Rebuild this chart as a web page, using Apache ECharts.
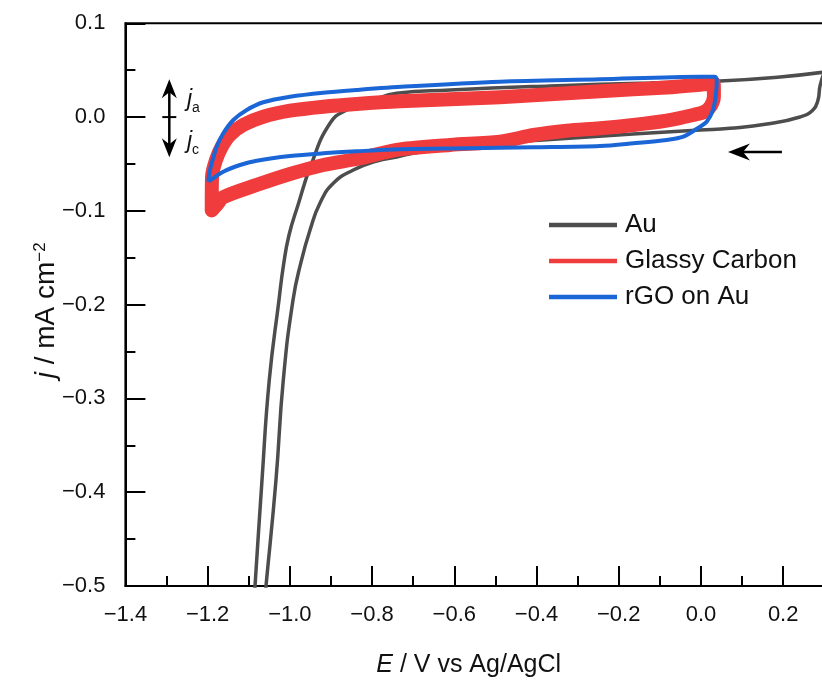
<!DOCTYPE html>
<html><head><meta charset="utf-8">
<script src="https://cdn.jsdelivr.net/npm/echarts@6/dist/echarts.min.js"></script>
<style>html,body{margin:0;padding:0;background:#fff}#c{width:822px;height:683px}</style>
</head><body><div id="c"></div>
<script>
// ---- data (E / V vs Ag/AgCl, j / mA cm^-2) ----
const seriesNames = ['Au', 'Glassy Carbon', 'rGO on Au'];

const auLoop = [
  [0.300,0.048],[0.2896,0.0332],[0.2847,0.0182],[0.2725,0.0076],[0.2409,0.0001],[0.1606,-0.0074],
  [0.0706,-0.0119],[-0.0022,-0.0138],[-0.1653,-0.018],[-0.3842,-0.0244],[-0.5374,-0.0287],
  [-0.6834,-0.0372],[-0.74,-0.0425],[-0.7887,-0.0468],[-0.8456,-0.0564],[-0.8943,-0.0706],
  [-0.9266,-0.0916],[-0.9509,-0.1204],[-0.973,-0.155],[-0.9923,-0.195],[-1.0159,-0.2803],[-1.0337,-0.3869],
  [-1.058,-0.5],[-1.0702,-0.557],
  [-1.0933,-0.557],[-1.0847,-0.5],[-1.0677,-0.3869],[-1.05,-0.2803],[-1.0264,-0.195],
  [-1.0154,-0.1577],[-1.002,-0.1257],[-0.9801,-0.0937],[-0.9485,-0.0511],[-0.9023,-0.0066],[-0.8617,0.0076],
  [-0.797,0.0182],[-0.74,0.0254],[-0.61,0.0289],[-0.3671,0.0332],[-0.1239,0.0364],
  [0.0464,0.0385],[0.1923,0.0428],[0.300,0.048]
];

const glassyCarbonLoop = [
  [-1.19,-0.0995],[-1.1893,-0.0635],[-1.1796,-0.0457],[-1.1657,-0.0316],[-1.1458,-0.0191],
  [-1.1132,-0.0084],[-1.0646,0.0004],[-0.9996,0.0068],[-0.9186,0.0111],[-0.8374,0.014],
  [-0.732,0.0168],[-0.4888,0.0211],[-0.2455,0.0276],[-0.0833,0.0316],[-0.0022,0.0345],
  [0.031,0.036],[0.0315,0.022],[0.024,0.012],[0.010,0.006],[-0.0186,0.0022],[-0.0833,-0.0038],
  [-0.1645,-0.0084],[-0.2455,-0.0119],[-0.3265,-0.0145],[-0.4078,-0.0191],[-0.4888,-0.0262],
  [-0.6104,-0.0297],[-0.732,-0.0345],[-0.8374,-0.0447],[-0.9186,-0.0511],[-0.9996,-0.0607],
  [-1.0806,-0.0724],[-1.1619,-0.0855],[-1.1779,-0.0937],[-1.19,-0.0995]
];

const rgoLoop = [
  [-1.1983,-0.0689],[-1.1959,-0.0599],[-1.1901,-0.0493],[-1.1779,-0.0316],[-1.1619,-0.0173],
  [-1.1375,-0.0031],[-1.1049,0.0076],[-1.0646,0.0158],[-0.9996,0.0217],[-0.9186,0.026],
  [-0.8374,0.0289],[-0.72,0.0325],[-0.4888,0.0377],[-0.2455,0.0403],[-0.0022,0.0431],
  [0.034,0.0431],[0.0384,0.0396],[0.0367,0.0254],[0.0294,0.0076],[0.0140,-0.0049],
  [-0.0022,-0.0102],[-0.0429,-0.0209],[-0.0833,-0.0244],[-0.1645,-0.0279],[-0.2455,-0.0308],
  [-0.4085,-0.0322],[-0.5698,-0.0333],[-0.732,-0.0343],[-0.8374,-0.0365],[-0.9186,-0.0386],
  [-0.9996,-0.0415],[-1.0806,-0.0465],[-1.1212,-0.0511],[-1.1619,-0.0582],[-1.1983,-0.0689]
];

// axis ranges / ticks
const xRange = [-1.4, 0.4], xStep = 0.2;
const yRange = [-0.5, 0.1], yStep = 0.1;

// annotation anchors (data units)
const scanArrow = {tip:[0.0658,-0.0372], tail:[0.1969,-0.0372]};
const jArrow = {x:-1.2932, top:0.0403, bottom:-0.0429, mid:0.0};
const jaLabelAt = [-1.2502, 0.0182];
const jcLabelAt = [-1.2502, -0.0265];
const xTitleCenterE = -0.565;
const yTitleCenterJ = -0.206;

// ---- chart ----
const FONT = "'Liberation Sans', Arial, Helvetica, sans-serif";
const fmt1 = v => { const r = Math.round(v*10)/10; return (r < 0 ? '\u2212' : '') + Math.abs(r).toFixed(1); };
const chart = echarts.init(document.getElementById('c'), null, {renderer:'canvas', width:822, height:683});
const axisCommon = {
  type:'value',
  axisLine:{show:true, onZero:false, lineStyle:{color:'#000', width:2}},
  axisTick:{show:true, inside:true, length:20, lineStyle:{color:'#000', width:2}},
  minorTick:{show:true, splitNumber:2, length:10, lineStyle:{color:'#000', width:2}},
  splitLine:{show:false}, minorSplitLine:{show:false}
};
const option = {
  animation:false, backgroundColor:'#fff',
  grid:{left:125.4, top:23.3, right:-43.4, bottom:97, show:true, borderColor:'#000', borderWidth:2,
    backgroundColor:'transparent', containLabel:false, outerBoundsMode:'none'},
  xAxis:Object.assign({}, axisCommon, {min:xRange[0], max:xRange[1], interval:xStep,
    axisLabel:{formatter:fmt1, fontSize:22, color:'#111', fontFamily:FONT, margin:18, showMaxLabel:false}}),
  yAxis:Object.assign({}, axisCommon, {min:yRange[0], max:yRange[1], interval:yStep,
    axisLabel:{formatter:fmt1, fontSize:22, color:'#111', fontFamily:FONT, margin:20}}),
  legend:{data:seriesNames.map(n => ({name:n, icon:'rect'})), orient:'vertical', left:549, top:212, padding:0, itemGap:10,
    itemWidth:68, itemHeight:4.5,
    textStyle:{fontSize:26, lineHeight:26, color:'#111', fontFamily:FONT, padding:[0,0,0,3]}},
  series:[
    {name:seriesNames[0], type:'line', data:auLoop, symbol:'none', smooth:0.5, z:2,
      lineStyle:{color:'#4d4d4d', width:3.5}, itemStyle:{color:'#4d4d4d'}},
    {name:seriesNames[1], type:'line', data:glassyCarbonLoop, symbol:'none', smooth:0.3, z:3,
      lineStyle:{color:'#f03c3c', width:14, join:'round', cap:'round'}, itemStyle:{color:'#f03c3c'}},
    {name:seriesNames[2], type:'line', data:rgoLoop, symbol:'none', smooth:0.3, z:4,
      lineStyle:{color:'#1b66d6', width:4, join:'round'}, itemStyle:{color:'#1b66d6'}}
  ]
};
chart.setOption(option);

const P = (x, y) => chart.convertToPixel({gridIndex:0}, [x, y]);
const t = P(scanArrow.tip[0], scanArrow.tip[1]);
const tl = P(scanArrow.tail[0], scanArrow.tail[1]);
const aTop = P(jArrow.x, jArrow.top), aBot = P(jArrow.x, jArrow.bottom), aMid = P(jArrow.x, jArrow.mid);
const ja = P(jaLabelAt[0], jaLabelAt[1]), jc = P(jcLabelAt[0], jcLabelAt[1]);
const xT = P(xTitleCenterE, yRange[0]);
const yT = P(xRange[0], yTitleCenterJ);
const richJ = {i:{fontStyle:'italic', fontSize:23, fontFamily:FONT, fill:'#111'}, s:{fontSize:14, fontFamily:FONT, verticalAlign:'bottom', lineHeight:30, fill:'#111'}};
chart.setOption({graphic:[
  {type:'line', shape:{x1:t[0]+14, y1:t[1], x2:tl[0], y2:tl[1]}, style:{stroke:'#000', lineWidth:2.5}},
  {type:'polygon', shape:{points:[[t[0],t[1]],[t[0]+22,t[1]-8.5],[t[0]+15,t[1]],[t[0]+22,t[1]+8.5]]}, style:{fill:'#000'}},
  {type:'line', shape:{x1:aTop[0], y1:aTop[1]+12, x2:aBot[0], y2:aBot[1]-12}, style:{stroke:'#000', lineWidth:2.5}},
  {type:'line', shape:{x1:aMid[0]-7, y1:aMid[1], x2:aMid[0]+7, y2:aMid[1]}, style:{stroke:'#000', lineWidth:2}},
  {type:'polygon', shape:{points:[[aTop[0],aTop[1]],[aTop[0]-7.5,aTop[1]+19],[aTop[0],aTop[1]+13],[aTop[0]+7.5,aTop[1]+19]]}, style:{fill:'#000'}},
  {type:'polygon', shape:{points:[[aBot[0],aBot[1]],[aBot[0]-7.5,aBot[1]-19],[aBot[0],aBot[1]-13],[aBot[0]+7.5,aBot[1]-19]]}, style:{fill:'#000'}},
  {type:'text', x:ja[0], y:ja[1], style:{text:'{i|j}{s|a}', rich:richJ, fontSize:23, fontFamily:FONT, fill:'#111', verticalAlign:'middle', align:'left'}},
  {type:'text', x:jc[0], y:jc[1], style:{text:'{i|j}{s|c}', rich:richJ, fontSize:23, fontFamily:FONT, fill:'#111', verticalAlign:'middle', align:'left'}},
  {type:'text', x:xT[0], y:665, style:{text:'{i|E} / V vs Ag/AgCl', fontSize:25, fontFamily:FONT, fill:'#111', align:'center', verticalAlign:'middle',
    rich:{i:{fontStyle:'italic', fontSize:25, fontFamily:FONT, fill:'#111'}}}},
  {type:'text', x:46, y:yT[1], rotation:Math.PI/2, style:{text:'{i|j} / mA cm{s|\u22122}', fontSize:28, fontFamily:FONT, fill:'#111', align:'center', verticalAlign:'middle',
    rich:{i:{fontStyle:'italic', fontSize:28, fontFamily:FONT, fill:'#111'}, s:{fontSize:17, fontFamily:FONT, fill:'#111', verticalAlign:'top'}}}}
]});
</script>
</body></html>
